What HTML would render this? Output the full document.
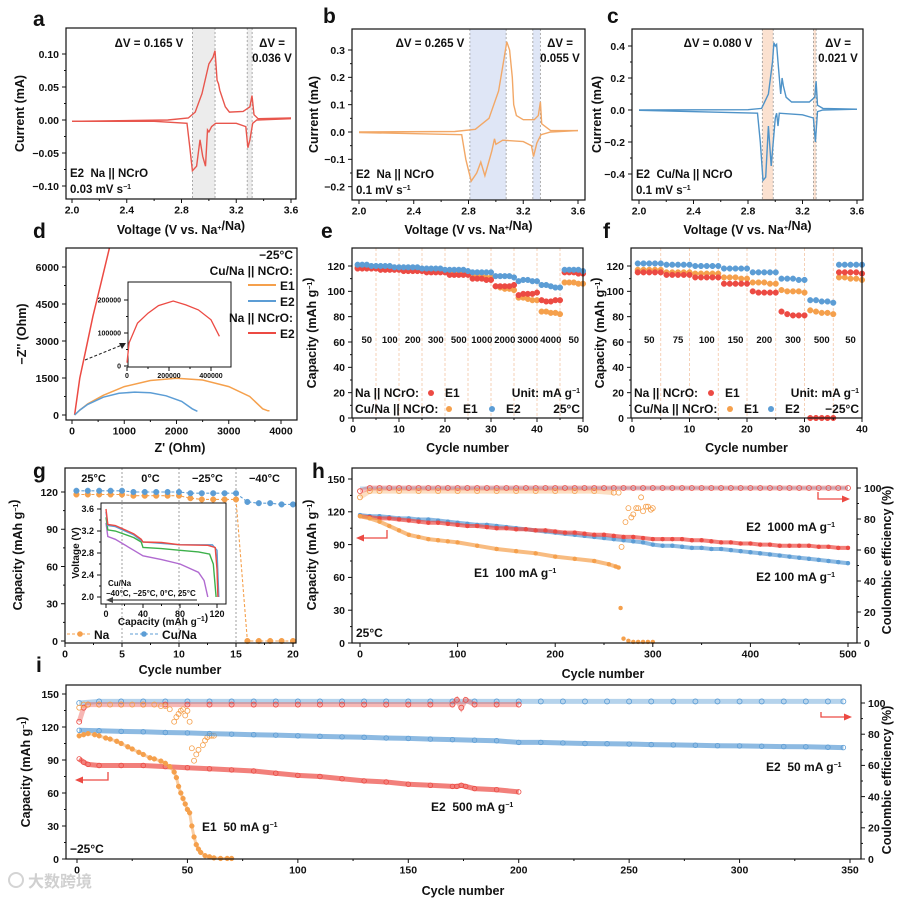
<!DOCTYPE html>
<html><head><meta charset="utf-8"><style>
html,body{margin:0;padding:0;background:#fff;}
svg{display:block;font-family:"Liberation Sans",Arial,sans-serif;font-weight:bold;}
</style></head><body>
<svg id="fig" xmlns="http://www.w3.org/2000/svg" width="903" height="904" viewBox="0 0 903 904">
<rect x="0" y="0" width="903" height="904" fill="#fff"/>
</svg>
<script>
// ---------- DATA ----------
const aUpV=[2.0,2.7,2.85,2.9,2.95,3.0,3.03,3.045,3.06,3.07,3.08,3.12,3.15,3.25,3.3,3.315,3.33,3.36,3.6];
const aUpI=[-0.002,0.0,0.003,0.012,0.04,0.085,0.095,0.105,0.06,0.055,0.045,0.02,0.012,0.013,0.02,0.037,0.008,0.002,0.003];
const aLoV=[3.6,3.35,3.32,3.30,3.285,3.27,3.2,3.05,3.02,3.0,2.99,2.975,2.955,2.935,2.91,2.88,2.86,2.84,2.6,2.0];
const aLoI=[0.002,0.0,-0.005,-0.03,-0.042,-0.01,-0.005,-0.005,-0.01,-0.018,-0.015,-0.07,-0.055,-0.03,-0.07,-0.077,-0.04,-0.005,-0.002,-0.002];
const aBands=[[2.88,3.045],[3.28,3.316]];
const bUpV=[2.0,2.7,2.85,2.95,3.02,3.06,3.08,3.1,3.12,3.13,3.15,3.2,3.28,3.31,3.325,3.335,3.4,3.6];
const bUpI=[0,0.002,0.01,0.05,0.15,0.27,0.33,0.3,0.2,0.1,0.06,0.045,0.045,0.06,0.11,0.03,0.005,0.005];
const bLoV=[3.6,3.4,3.33,3.3,3.275,3.26,3.2,3.05,3.0,2.99,2.97,2.92,2.89,2.86,2.82,2.78,2.75,2.0];
const bLoI=[0.005,0,-0.01,-0.04,-0.09,-0.05,-0.035,-0.03,-0.045,-0.025,-0.07,-0.16,-0.11,-0.15,-0.18,-0.1,-0.01,-0.002];
const bBands=[[2.81,3.075],[3.27,3.325]];
const cUpV=[2.0,2.8,2.9,2.95,2.98,2.99,3.0,3.01,3.02,3.04,3.05,3.06,3.08,3.12,3.25,3.29,3.30,3.31,3.35,3.6];
const cUpI=[0,0.002,0.01,0.1,0.3,0.42,0.4,0.41,0.3,0.1,0.2,0.15,0.08,0.05,0.05,0.08,0.18,0.03,0.01,0.005];
const cLoV=[3.6,3.35,3.31,3.295,3.28,3.2,3.03,3.02,3.01,3.0,2.97,2.95,2.93,2.91,2.89,2.87,2.0];
const cLoI=[0.005,0,-0.01,-0.2,-0.05,-0.03,-0.02,-0.1,-0.02,-0.05,-0.35,-0.1,-0.42,-0.44,-0.2,-0.02,-0.002];
const cBands=[[2.905,2.985],[3.28,3.30]];
const dRedX=[50,150,250,400,550,720,800];
const dRedY=[0,1500,2500,4000,5300,6800,7500];
const dOrX=[50,150,300,600,1000,1500,2000,2500,3000,3400,3650,3750,3780];
const dOrY=[0,200,450,800,1150,1400,1490,1420,1150,750,250,170,170];
const dBlX=[50,150,300,600,900,1200,1500,1800,2100,2300,2400];
const dBlY=[0,200,430,720,880,930,900,780,550,250,150];
const dInX=[0,10000,50000,100000,150000,220000,280000,340000,400000,440000];
const dInY=[10000,70000,130000,160000,183000,197000,185000,170000,140000,90000];
const eRates=["50","100","200","300","500","1000","2000","3000","4000","50"];
const eRed=[118,118,118,118,118,117,117,117,117,117,116,116,116,116,116,115,115,115,115,115,113,113,113,113,113,110,110,110,109,109,104,104,104,104,105,97,98,98,98,99,93,92,92,93,93,115,115,115,114,114];
const eOrange=[119,119,119,119,119,118,118,118,118,118,117,117,117,117,117,116,116,116,116,116,115,115,115,114,114,112,112,112,111,111,104,103,102,102,101,95,95,94,93,93,84,84,83,83,82,107,107,107,106,106];
const eBlue=[121,121,121,120,120,120,120,120,119,119,119,119,119,119,118,118,118,118,118,117,117,117,117,117,116,115,115,115,115,115,112,112,112,112,111,108,109,109,108,108,105,105,104,103,103,117,117,117,117,116];
const fRates=["50","75","100","150","200","300","500","50"];
const fRed=[115,115,115,115,115,113,113,113,113,113,111,111,111,111,111,106,106,106,106,106,100,99,99,99,99,84,82,81,81,81,0,0,0,0,0,115,115,115,115,114];
const fOrange=[117,117,117,117,117,115,115,115,115,115,114,114,114,114,114,111,111,111,110,110,107,107,107,106,106,101,100,100,100,99,85,84,83,83,82,111,111,110,110,109];
const fBlue=[122,122,122,122,122,121,121,121,121,121,120,120,120,120,120,118,118,118,118,118,115,115,115,115,115,110,110,110,109,109,93,93,92,92,91,121,121,121,121,121];
const gNa=[118,118,118,118,118,117,117,117,117,117,115,114,114,114,114,0,0,0,0,0];
const gCu=[121,121,121,121,121,120,120,120,120,120,119,119,119,119,119,112,111,111,110,110];
const gTemps=["25°C","0°C","−25°C","−40°C"];
const gInRedX=[0,2,10,30,38,40,60,80,110,118,120,121];
const gInRedY=[3.6,3.32,3.3,3.15,3.05,3.0,2.99,2.95,2.94,2.9,2.5,2.0];
const gInBlueX=[0,2,10,30,40,80,115,120,122];
const gInBlueY=[3.55,3.3,3.28,3.13,3.0,2.95,2.95,2.85,2.0];
const gInGreenX=[0,2,10,30,38,40,60,80,100,112,116,119];
const gInGreenY=[3.45,3.22,3.2,3.08,3.0,2.9,2.88,2.85,2.82,2.78,2.6,2.0];
const gInPurpleX=[0,2,10,30,40,60,80,100,106,110];
const gInPurpleY=[3.35,3.1,3.05,2.85,2.75,2.68,2.6,2.45,2.3,2.0];
const hCyc=[0,10,20,30,40,50,60,70,80,90,100,110,120,130,140,150,160,170,180,190,200,210,220,230,240,250,260,270,280,290,300,310,320,330,340,350,360,370,380,390,400,410,420,430,440,450,460,470,480,490,500];
const hBlueCap=[117,116,116,115,114,114,113,113,112,111,110,109,108,108,107,106,105,104,103,102,101,100,99,98,97,96,95,94,93,92,90,89,89,88,87,87,86,86,85,84,83,82,81,80,79,78,77,76,75,74,73];
const hRedCap=[116,115,114,114,113,112,111,110,110,109,108,107,107,106,105,105,104,104,103,103,102,101,101,100,99,99,98,97,97,96,95,95,95,95,94,94,93,92,92,91,91,90,90,89,89,89,89,88,88,87,87];
const hRedCE=[98,100,100,100,100,100,100,100,100,100,100,100,100,100,100,100,100,100,100,100,100,100,100,100,100,100,100,100,100,100,100,100,100,100,100,100,100,100,100,100,100,100,100,100,100,100,100,100,100,100,100];
const hOrCyc=[0,10,20,30,40,50,60,70,80,90,100,120,140,160,180,200,220,240,255,262,265,267,270,275,280,285,290,295,300];
const hOrCap=[116,114,111,107,103,99,97,95,94,93,92,89,86,84,82,79,77,75,72,70,69,32,4,2,1,1,1,1,1];
const hOrCECyc=[0,10,20,40,60,80,100,120,140,160,180,200,220,240,260,265,268,272,275,278,280,283,285,288,290,293,295,298,300];
const hOrCE=[94,98,98,98,98,98,98,98,98,98,98,98,98,98,97,97,62,78,87,81,83,87,87,94,85,88,88,86,87];
const iBlueCyc=[1,10,20,30,40,50,60,70,80,90,100,110,120,130,140,150,160,170,180,190,200,210,220,230,240,250,260,270,280,290,300,310,320,330,340,347];
const iBlueCap=[117,116.6,116,115.6,115,114.6,114,113.5,113,112.6,112,111.5,111,110.6,110,109.6,109,108.5,108,107.5,106,106,105.5,105,104.8,104.5,104,103.7,103.4,103,102.8,102.5,102.2,102,101.6,101.3];
const iBlueCE=[100,101,101,101,101,101,101,101,101,101,101,101,101,101,101,101,101,101,101,101,101,101,101,101,101,101,101,101,101,101,101,101,101,101,101,101];
const iRedCyc=[1,3,5,10,20,30,40,50,60,70,80,90,100,110,120,130,140,150,160,170,172,174,176,180,190,200];
const iRedCap=[91,88,86,85,85,85,84,83,82,81,80,78,76,75,73,71,70,68,67,66,66,67,66,64,63,61];
const iRedCE=[88,97,99,99,99,99,99,99,99,99,99,99,99,99,99,99,99,99,99,99,102,97,102,99,99,99];
const iOrCyc=[1,3,5,8,10,13,15,18,20,23,25,28,30,33,35,38,40,42,44,45,46,47,48,49,50,51,52,53,54,55,56,58,60,62,65,68,70];
const iOrCap=[112,113,114,113,112,110,109,107,105,102,100,97,95,92,91,89,87,84,79,74,66,60,55,50,45,42,30,20,13,9,6,3,2,1,0.5,0.5,0.5];
const iOrCECyc=[1,3,5,10,15,20,25,30,35,38,40,42,44,45,46,47,48,49,50,51,52,53,54,55,57,58,59,60,61,62];
const iOrCE=[97,99,99,99,99,99,99,99,99,98,98,96,88,91,93,95,96,92,95,88,71,63,67,70,73,76,78,79,79,79];

// ---------- HELPERS ----------
const NS="http://www.w3.org/2000/svg";
const S=document.getElementById('fig');
function mk(tag,attrs,parent,name){
  const e=document.createElementNS(NS,tag);
  for(const k in attrs) e.setAttribute(k,attrs[k]);
  
  
  (parent||S).appendChild(e);return e;
}
function lin(d0,d1,r0,r1){return v=>r0+(v-d0)*(r1-r0)/(d1-d0);}
function txt(x,y,html,size,name,anchor,extra){
  const t=mk('text',Object.assign({x:x,y:y,'font-size':size,'text-anchor':anchor||'start',fill:'#111'},extra||{}),S,name);
  t.innerHTML=html;return t;
}
function sup(s){return '<tspan dy="-4" font-size="7">'+s+'</tspan>';}
function pathD(xs,ys,sx,sy){return xs.map((v,i)=>(i?'L':'M')+sx(v).toFixed(1)+','+sy(ys[i]).toFixed(1)).join('');}
function frame(b,name){
  mk('rect',{x:b[0],y:b[1],width:b[2]-b[0],height:b[3]-b[1],fill:'none',stroke:'#111','stroke-width':1.2},S,name);
}
function xTicks(b,sx,ticks,labels,name,fs){
  fs=fs||10.5;
  const g=mk('g',{},S,name);
  ticks.forEach((t,i)=>{
    mk('line',{x1:sx(t),x2:sx(t),y1:b[3],y2:b[3]+4,stroke:'#111','stroke-width':1},g,'x-tick');
    if(i<ticks.length-1){const m=(t+ticks[i+1])/2;mk('line',{x1:sx(m),x2:sx(m),y1:b[3],y2:b[3]+2,stroke:'#111','stroke-width':1},g,'x-minor-tick');}
    const tt=mk('text',{x:sx(t),y:b[3]+4+fs,'font-size':fs,'text-anchor':'middle',fill:'#111'},g,'x-tick-label');
    tt.textContent=labels[i];
  });
}
function yTicks(b,sy,ticks,labels,name,right,fs){
  fs=fs||10.5;
  const g=mk('g',{},S,name);
  const x0=right?b[2]:b[0], d=right?1:-1;
  ticks.forEach((t,i)=>{
    mk('line',{x1:x0,x2:x0+4*d,y1:sy(t),y2:sy(t),stroke:'#111','stroke-width':1},g,'y-tick');
    if(i<ticks.length-1){const m=(t+ticks[i+1])/2;mk('line',{x1:x0,x2:x0+2*d,y1:sy(m),y2:sy(m),stroke:'#111','stroke-width':1},g,'y-minor-tick');}
    const tt=mk('text',{x:x0+7*d,y:sy(t)+fs*0.36,'font-size':fs,'text-anchor':right?'start':'end',fill:'#111'},g,'y-tick-label');
    tt.textContent=labels[i];
  });
}
function vtitle(x,y,html,name,size){
  const t=mk('text',{x:0,y:0,'font-size':size||12.5,'text-anchor':'middle',fill:'#111',transform:'translate('+x+','+y+') rotate(-90)'},S,name);
  t.innerHTML=html;return t;
}
function clip(id,b){
  const c=mk('clipPath',{id:id},S,id);
  mk('rect',{x:b[0],y:b[1],width:b[2]-b[0],height:b[3]-b[1]},c,id+'-rect');
}
function dots(xs,ys,sx,sy,color,r,name,open){
  const g=mk('g',{},S,name);
  xs.forEach((v,i)=>{
    mk('circle',{cx:sx(v),cy:sy(ys[i]),r:r,fill:open?'none':color,stroke:color,'stroke-width':open?0.8:0.5},g,'marker');
  });
  return g;
}
const RED='#ec4a43',ORG='#f5a04c',BLU='#5c9dd5';
const cyc=n=>Array.from({length:n},(_,i)=>i+1);
const VLAB='Voltage (V vs. Na'+sup('+')+'/Na)';

// ---------- PANEL LETTERS ----------
[['a',33,26],['b',323,23],['c',607,23],['d',33,238],['e',321,238],['f',603,238],['g',33,478],['h',312,478],['i',36,672]].forEach(p=>{
  txt(p[1],p[2],p[0],21,'panel-letter-'+p[0]);
});

// ---------- CV PANELS ----------
function cv(id,b,sx,sy,up,lo,bands,bandCol,col,yt,yl,label1,label2,dv1,dv2,dv1x,dv2x,ylx){
  clip('clip-'+id,b);
  bands.forEach((bd,k)=>{
    mk('rect',{x:sx(bd[0]),y:b[1],width:sx(bd[1])-sx(bd[0]),height:b[3]-b[1],fill:bandCol},S,'shaded-band-'+(k+1));
    [bd[0],bd[1]].forEach(v=>mk('line',{x1:sx(v),x2:sx(v),y1:b[1],y2:b[3],stroke:'#999','stroke-width':0.8,'stroke-dasharray':'2,2'},S,'band-edge-line'));
  });
  const g=mk('g',{'clip-path':'url(#clip-'+id+')'},S,'cv-curve-'+id);
  mk('path',{d:pathD(up[0],up[1],sx,sy),fill:'none',stroke:col,'stroke-width':1.4},g,'oxidation-branch');
  mk('path',{d:pathD(lo[0],lo[1],sx,sy),fill:'none',stroke:col,'stroke-width':1.4},g,'reduction-branch');
  frame(b,'plot-frame-'+id);
  xTicks(b,sx,[2.0,2.4,2.8,3.2,3.6],['2.0','2.4','2.8','3.2','3.6'],'x-axis-'+id);
  yTicks(b,sy,yt,yl,'y-axis-'+id);
  vtitle(ylx,(b[1]+b[3])/2,'Current (mA)','y-axis-title-'+id);
  txt((b[0]+b[2])/2,234,VLAB,12.5,'x-axis-title-'+id,'middle');
  txt(b[0]+4,b[3]-22,label1,11.5,'condition-label-'+id);
  txt(b[0]+4,b[3]-6,label2,11.5,'scan-rate-label-'+id);
  txt(dv1x,47,dv1,11.5,'delta-v-label-1-'+id,'middle');
  txt(dv2x,47,'ΔV =',11.5,'delta-v-label-2-'+id,'middle');
  txt(dv2x,62,dv2,11.5,'delta-v-value-2-'+id,'middle');
}
cv('a',[66,28,296,199],lin(2,3.6,72,291),lin(0,0.1,120,54),[aUpV,aUpI],[aLoV,aLoI],aBands,'#ececec','#e8564d',
  [-0.1,-0.05,0,0.05,0.1],['−0.10','−0.05','0.00','0.05','0.10'],'E2&#160;&#160;Na || NCrO','0.03 mV s'+sup('−1'),'ΔV = 0.165 V','0.036 V',149,272,24);
cv('b',[352,29,585,200],lin(2,3.6,359,578),lin(0,0.3,132,50),[bUpV,bUpI],[bLoV,bLoI],bBands,'#dfe6f6','#f2a867',
  [-0.2,-0.1,0,0.1,0.2,0.3],['−0.2','−0.1','0.0','0.1','0.2','0.3'],'E2&#160;&#160;Na || NCrO','0.1 mV s'+sup('−1'),'ΔV = 0.265 V','0.055 V',430,560,318);
cv('c',[632,29,863,200],lin(2,3.6,639,857),lin(0,0.4,110,46),[cUpV,cUpI],[cLoV,cLoI],cBands,'#fbe1d0','#4f93c8',
  [-0.4,-0.2,0,0.2,0.4],['−0.4','−0.2','0.0','0.2','0.4'],'E2&#160;&#160;Cu/Na || NCrO','0.1 mV s'+sup('−1'),'ΔV = 0.080 V','0.021 V',718,838,601);

// ---------- PANEL D ----------
(function(){
  const b=[66,248,297,420],sx=lin(0,4000,72,281),sy=lin(0,6000,415,267);
  clip('clip-d',b);
  const g=mk('g',{'clip-path':'url(#clip-d)'},S,'nyquist-curves');
  mk('path',{d:pathD(dRedX,dRedY,sx,sy),fill:'none',stroke:RED,'stroke-width':1.5},g,'na-e2-curve');
  mk('path',{d:pathD(dOrX,dOrY,sx,sy),fill:'none',stroke:ORG,'stroke-width':1.5},g,'cuna-e1-curve');
  mk('path',{d:pathD(dBlX,dBlY,sx,sy),fill:'none',stroke:BLU,'stroke-width':1.5},g,'cuna-e2-curve');
  frame(b,'plot-frame-d');
  xTicks(b,sx,[0,1000,2000,3000,4000],['0','1000','2000','3000','4000'],'x-axis-d');
  yTicks(b,sy,[0,1500,3000,4500,6000],['0','1500','3000','4500','6000'],'y-axis-d');
  vtitle(26,334,'−Z\'\' (Ohm)','y-axis-title-d');
  txt(180,452,'Z\' (Ohm)',12.5,'x-axis-title-d','middle');
  const ib=[128,282,231,367],ix=lin(0,400000,127,211),iy=lin(0,200000,366,300);
  mk('rect',{x:ib[0],y:ib[1],width:ib[2]-ib[0],height:ib[3]-ib[1],fill:'#fff',stroke:'#111','stroke-width':1},S,'inset-frame-d');
  mk('path',{d:pathD(dInX,dInY,ix,iy),fill:'none',stroke:RED,'stroke-width':1.3},S,'inset-na-e2-curve');
  xTicks(ib,ix,[0,200000,400000],['0','200000','400000'],'inset-x-axis-d',7);
  yTicks(ib,iy,[0,100000,200000],['0','100000','200000'],'inset-y-axis-d',false,7);
  mk('line',{x1:85,y1:360,x2:122,y2:345,stroke:'#222','stroke-width':1,'stroke-dasharray':'3,2'},S,'inset-pointer-line');
  mk('path',{d:'M126,343 L119,343 L122,349 Z',fill:'#222'},S,'inset-pointer-arrowhead');
  txt(293,259,'−25°C',12,'legend-temperature','end');
  txt(293,275,'Cu/Na || NCrO:',12,'legend-group-cuna','end');
  mk('line',{x1:248,x2:276,y1:285,y2:285,stroke:ORG,'stroke-width':2},S,'legend-line-e1');
  txt(280,290,'E1',12,'legend-label-e1');
  mk('line',{x1:248,x2:276,y1:301,y2:301,stroke:BLU,'stroke-width':2},S,'legend-line-e2');
  txt(280,306,'E2',12,'legend-label-e2');
  txt(293,322,'Na || NCrO:',12,'legend-group-na','end');
  mk('line',{x1:248,x2:276,y1:333,y2:333,stroke:RED,'stroke-width':2},S,'legend-line-na-e2');
  txt(280,338,'E2',12,'legend-label-na-e2');
})();

// ---------- RATE PANELS E, F ----------
function rate(id,b,n,xt,red,org,blu,rates,temp,ylx,dotX){
  const sx=lin(0,n,b[0]+1,b[2]),sy=lin(0,120,418,266);
  for(let k=5;k<n;k+=5) mk('line',{x1:sx(k),x2:sx(k),y1:b[1],y2:b[3],stroke:'#f3c6a6','stroke-width':0.8,'stroke-dasharray':'3,2'},S,'block-divider');
  rates.forEach((r,k)=>txt(sx(k*5+3),343,r,9.5,'rate-label','middle'));
  const c=cyc(n);
  dots(c,org,sx,sy,ORG,2.8,'series-cuna-e1');
  dots(c,red,sx,sy,RED,2.8,'series-na-e1');
  dots(c,blu,sx,sy,BLU,2.8,'series-cuna-e2');
  frame(b,'plot-frame-'+id);
  xTicks(b,sx,xt,xt.map(String),'x-axis-'+id);
  yTicks(b,sy,[0,20,40,60,80,100,120],['0','20','40','60','80','100','120'],'y-axis-'+id);
  vtitle(ylx,333,'Capacity (mAh g'+sup('−1')+')','y-axis-title-'+id);
  txt((b[0]+b[2])/2,452,'Cycle number',12.5,'x-axis-title-'+id,'middle');
  txt(b[0]+3,397,'Na || NCrO:',12,'legend-group-na-'+id);
  mk('circle',{cx:dotX[0],cy:393,r:3,fill:RED},S,'legend-marker-na-e1');
  txt(dotX[0]+14,397,'E1',12,'legend-label-na-e1');
  txt(b[0]+3,413,'Cu/Na || NCrO:',12,'legend-group-cuna-'+id);
  mk('circle',{cx:dotX[1],cy:409,r:3,fill:ORG},S,'legend-marker-cuna-e1');
  txt(dotX[1]+14,413,'E1',12,'legend-label-cuna-e1');
  mk('circle',{cx:dotX[2],cy:409,r:3,fill:BLU},S,'legend-marker-cuna-e2');
  txt(dotX[2]+14,413,'E2',12,'legend-label-cuna-e2');
  txt(b[2]-3,397,'Unit: mA g'+sup('−1'),12,'unit-label-'+id,'end');
  txt(b[2]-3,413,temp,12,'temperature-label-'+id,'end');
}
rate('e',[352,248,583,418],50,[0,10,20,30,40,50],eRed,eOrange,eBlue,eRates,'25°C',316,[431,449,492]);
rate('f',[631,248,862,418],40,[0,10,20,30,40],fRed,fOrange,fBlue,fRates,'−25°C',604,[711,730,771]);

// ---------- PANEL G ----------
(function(){
  const b=[65,468,296,643],sx=lin(0,20,65,293),sy=lin(0,120,641,492);
  [5,10,15].forEach(v=>mk('line',{x1:sx(v),x2:sx(v),y1:b[1],y2:b[3],stroke:'#888','stroke-width':0.8,'stroke-dasharray':'2,2'},S,'temperature-divider'));
  gTemps.forEach((t,k)=>txt(sx(k*5+2.5),482,t,11,'temperature-label','middle'));
  const c=cyc(20);
  mk('path',{d:pathD(c,gNa,sx,sy),fill:'none',stroke:ORG,'stroke-width':1.1,'stroke-dasharray':'3,2'},S,'na-line');
  dots(c,gNa,sx,sy,ORG,2.8,'na-markers');
  mk('path',{d:pathD(c,gCu,sx,sy),fill:'none',stroke:BLU,'stroke-width':1.1,'stroke-dasharray':'3,2'},S,'cuna-line');
  dots(c,gCu,sx,sy,BLU,2.8,'cuna-markers');
  frame(b,'plot-frame-g');
  xTicks(b,sx,[0,5,10,15,20],['0','5','10','15','20'],'x-axis-g');
  yTicks(b,sy,[0,30,60,90,120],['0','30','60','90','120'],'y-axis-g');
  vtitle(22,555,'Capacity (mAh g'+sup('−1')+')','y-axis-title-g');
  txt(180,674,'Cycle number',12.5,'x-axis-title-g','middle');
  mk('line',{x1:67,x2:90,y1:634,y2:634,stroke:ORG,'stroke-width':1.1,'stroke-dasharray':'3,2'},S,'legend-line-na');
  mk('circle',{cx:80,cy:634,r:2.8,fill:ORG},S,'legend-marker-na');
  txt(94,639,'Na',12,'legend-label-na');
  mk('line',{x1:130,x2:158,y1:634,y2:634,stroke:BLU,'stroke-width':1.1,'stroke-dasharray':'3,2'},S,'legend-line-cuna');
  mk('circle',{cx:144,cy:634,r:2.8,fill:BLU},S,'legend-marker-cuna');
  txt(162,639,'Cu/Na',12,'legend-label-cuna');
  const ib=[101,503,226,604],ix=lin(0,120,106,217),iy=lin(2.0,3.6,597,509);
  mk('rect',{x:ib[0],y:ib[1],width:ib[2]-ib[0],height:ib[3]-ib[1],fill:'#fff',stroke:'#111','stroke-width':1},S,'inset-frame-g');
  [5,10].forEach(v=>mk('line',{x1:sx(v),x2:sx(v),y1:ib[1],y2:ib[3],stroke:'#888','stroke-width':0.8,'stroke-dasharray':'2,2'},S,'inset-divider'));
  mk('path',{d:pathD(gInPurpleX,gInPurpleY,ix,iy),fill:'none',stroke:'#b06ad0','stroke-width':1.4},S,'curve-minus40');
  mk('path',{d:pathD(gInGreenX,gInGreenY,ix,iy),fill:'none',stroke:'#3cb04a','stroke-width':1.4},S,'curve-minus25');
  mk('path',{d:pathD(gInBlueX,gInBlueY,ix,iy),fill:'none',stroke:BLU,'stroke-width':1.4},S,'curve-0c');
  mk('path',{d:pathD(gInRedX,gInRedY,ix,iy),fill:'none',stroke:RED,'stroke-width':1.4},S,'curve-25c');
  xTicks(ib,ix,[0,40,80,120],['0','40','80','120'],'inset-x-axis-g',9);
  yTicks(ib,iy,[2.0,2.4,2.8,3.2,3.6],['2.0','2.4','2.8','3.2','3.6'],'inset-y-axis-g',false,9);
  vtitle(79,553,'Voltage (V)','inset-y-title',10);
  txt(163,625,'Capacity (mAh g'+sup('−1')+')',10,'inset-x-title','middle');
  txt(108,586,'Cu/Na',8,'inset-note-cuna');
  txt(106,596,'−40°C, −25°C, 0°C, 25°C',8,'inset-note-temps');
  mk('line',{x1:112,x2:197,y1:600,y2:600,stroke:'#666','stroke-width':1.5},S,'inset-order-arrow');
  mk('path',{d:'M106,600 L113,597 L113,603 Z',fill:'#444'},S,'inset-order-arrowhead');
})();

// ---------- PANEL H ----------
(function(){
  const b=[352,468,857,643],sx=lin(0,500,360,848),sy=lin(0,150,643,479),sr=lin(0,100,643,488);
  mk('path',{d:pathD(hCyc,hBlueCap,sx,sy),fill:'none',stroke:BLU,'stroke-width':4,'stroke-opacity':0.7},S,'e2-100-band');
  dots(hCyc,hBlueCap,sx,sy,BLU,2,'e2-100-capacity');
  mk('path',{d:pathD(hCyc,hRedCap,sx,sy),fill:'none',stroke:RED,'stroke-width':4,'stroke-opacity':0.7},S,'e2-1000-band');
  dots(hCyc,hRedCap,sx,sy,RED,2,'e2-1000-capacity');
  mk('path',{d:pathD(hOrCyc.slice(0,21),hOrCap.slice(0,21),sx,sy),fill:'none',stroke:ORG,'stroke-width':4,'stroke-opacity':0.7},S,'e1-100-band');
  dots(hOrCyc,hOrCap,sx,sy,ORG,2,'e1-100-capacity');
  mk('path',{d:pathD(hCyc,hRedCE.map(()=>100),sx,sr),fill:'none',stroke:BLU,'stroke-width':3,'stroke-opacity':0.4},S,'e2-100-ce-band');
  mk('path',{d:pathD(hOrCECyc.slice(0,15),hOrCE.slice(0,15),sx,sr),fill:'none',stroke:ORG,'stroke-width':5,'stroke-opacity':0.35},S,'e1-100-ce-band');
  mk('path',{d:pathD(hCyc,hRedCE,sx,sr),fill:'none',stroke:RED,'stroke-width':5,'stroke-opacity':0.35},S,'e2-1000-ce-band');
  dots(hCyc,hRedCE,sx,sr,RED,2.5,'e2-1000-ce',true);
  dots(hOrCECyc,hOrCE,sx,sr,ORG,2.5,'e1-100-ce',true);
  frame(b,'plot-frame-h');
  xTicks(b,sx,[0,100,200,300,400,500],['0','100','200','300','400','500'],'x-axis-h');
  yTicks(b,sy,[0,30,60,90,120,150],['0','30','60','90','120','150'],'y-axis-left-h');
  yTicks(b,sr,[0,20,40,60,80,100],['0','20','40','60','80','100'],'y-axis-right-h',true);
  vtitle(316,555,'Capacity (mAh g'+sup('−1')+')','y-axis-title-left-h');
  vtitle(891,560,'Coulombic efficiency (%)','y-axis-title-right-h');
  txt(603,678,'Cycle number',12.5,'x-axis-title-h','middle');
  txt(835,531,'E2&#160;&#160;1000 mA g'+sup('−1'),12,'label-e2-1000','end');
  txt(835,581,'E2 100 mA g'+sup('−1'),12,'label-e2-100','end');
  txt(474,577,'E1&#160;&#160;100 mA g'+sup('−1'),12,'label-e1-100');
  txt(356,637,'25°C',12,'temperature-label-h');
  mk('path',{d:'M387,530 L387,538 L362,538',fill:'none',stroke:RED,'stroke-width':1.3},S,'left-axis-arrow');
  mk('path',{d:'M356,538 L364,534.5 L364,541.5 Z',fill:RED},S,'left-axis-arrowhead');
  mk('path',{d:'M818,492 L818,499 L843,499',fill:'none',stroke:RED,'stroke-width':1.3},S,'right-axis-arrow');
  mk('path',{d:'M850,499 L842,495.5 L842,502.5 Z',fill:RED},S,'right-axis-arrowhead');
})();

// ---------- PANEL I ----------
(function(){
  const b=[66,685,861,859],sx=lin(0,350,77,850),sy=lin(0,150,859,694),sr=lin(0,100,859,703);
  mk('path',{d:pathD(iBlueCyc,iBlueCE,sx,sr),fill:'none',stroke:BLU,'stroke-width':5,'stroke-opacity':0.45},S,'e2-50-ce-band');
  dots(iBlueCyc,iBlueCE,sx,sr,BLU,2.5,'e2-50-ce',true);
  mk('path',{d:pathD(iRedCyc,iRedCE,sx,sr),fill:'none',stroke:RED,'stroke-width':5,'stroke-opacity':0.4},S,'e2-500-ce-band');
  dots(iRedCyc,iRedCE,sx,sr,RED,2.5,'e2-500-ce',true);
  dots(iOrCECyc,iOrCE,sx,sr,ORG,2.5,'e1-50-ce',true);
  mk('path',{d:pathD(iBlueCyc,iBlueCap,sx,sy),fill:'none',stroke:BLU,'stroke-width':5,'stroke-opacity':0.7},S,'e2-50-band');
  dots(iBlueCyc,iBlueCap,sx,sy,BLU,2.3,'e2-50-capacity',true);
  mk('path',{d:pathD(iRedCyc,iRedCap,sx,sy),fill:'none',stroke:RED,'stroke-width':5,'stroke-opacity':0.7},S,'e2-500-band');
  dots(iRedCyc,iRedCap,sx,sy,RED,2.3,'e2-500-capacity',true);
  mk('path',{d:pathD(iOrCyc,iOrCap,sx,sy),fill:'none',stroke:ORG,'stroke-width':3,'stroke-opacity':0.5},S,'e1-50-band');
  dots(iOrCyc,iOrCap,sx,sy,ORG,2.4,'e1-50-capacity');
  frame(b,'plot-frame-i');
  xTicks(b,sx,[0,50,100,150,200,250,300,350],['0','50','100','150','200','250','300','350'],'x-axis-i');
  yTicks(b,sy,[0,30,60,90,120,150],['0','30','60','90','120','150'],'y-axis-left-i');
  yTicks(b,sr,[0,20,40,60,80,100],['0','20','40','60','80','100'],'y-axis-right-i',true);
  vtitle(30,772,'Capacity (mAh g'+sup('−1')+')','y-axis-title-left-i');
  vtitle(891,780,'Coulombic efficiency (%)','y-axis-title-right-i');
  txt(463,895,'Cycle number',12.5,'x-axis-title-i','middle');
  txt(766,771,'E2&#160;&#160;50 mA g'+sup('−1'),12,'label-e2-50');
  txt(431,811,'E2&#160;&#160;500 mA g'+sup('−1'),12,'label-e2-500');
  txt(202,831,'E1&#160;&#160;50 mA g'+sup('−1'),12,'label-e1-50');
  txt(70,853,'−25°C',12,'temperature-label-i');
  mk('path',{d:'M108,772 L108,780 L82,780',fill:'none',stroke:RED,'stroke-width':1.3},S,'left-axis-arrow-i');
  mk('path',{d:'M75,780 L83,776.5 L83,783.5 Z',fill:RED},S,'left-axis-arrowhead-i');
  mk('path',{d:'M821,712 L821,717 L845,717',fill:'none',stroke:RED,'stroke-width':1.3},S,'right-axis-arrow-i');
  mk('path',{d:'M852,717 L844,713.5 L844,720.5 Z',fill:RED},S,'right-axis-arrowhead-i');
})();

mk('circle',{cx:16,cy:880,r:7,fill:'none',stroke:'#d4d4d4','stroke-width':2},S,'watermark-logo');
txt(28,887,'大数跨境',16,'watermark-text','start',{fill:'#d0d0d0','font-family':'"Liberation Sans","Noto Sans CJK SC",sans-serif'});
</script>
</body></html>
